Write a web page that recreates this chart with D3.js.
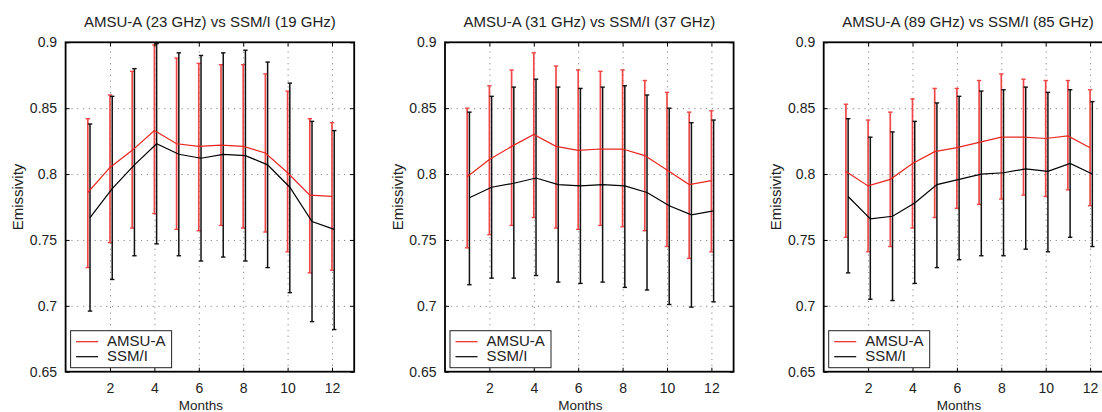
<!DOCTYPE html>
<html>
<head>
  <title>AMSU-A vs SSM/I emissivity</title>
  <script src="https://d3js.org/d3.v7.min.js"></script>
  <style>
  body { margin: 0; background: #fff; }
  svg { font-family: "Liberation Sans", Arial, sans-serif; display: block; }
  .grid line { stroke: #8a8a8a; stroke-dasharray: 1.2,4.6; }
  .grid path { display: none; }
  .axis path { display: none; }
  .axis line { stroke: #000; stroke-width: 1; }
  .axis text { font-size: 14px; fill: #222; }
  </style>
</head>
<body>
<div id="chart"></div>
<script>
// data
var months = [1, 2, 3, 4, 5, 6, 7, 8, 9, 10, 11, 12];
var titles = ["AMSU-A (23 GHz) vs SSM/I (19 GHz)", "AMSU-A (31 GHz) vs SSM/I (37 GHz)", "AMSU-A (89 GHz) vs SSM/I (85 GHz)"];
var seriesNames = ["AMSU-A", "SSM/I"];
var xTicks = [2, 4, 6, 8, 10, 12];
var yTicks = [0.65, 0.7, 0.75, 0.8, 0.85, 0.9];

// panel 1: 23 GHz / 19 GHz
var amsu23 = [0.786, 0.805, 0.818, 0.833, 0.823, 0.821, 0.822, 0.821, 0.816, 0.801, 0.784, 0.783];
var amsu23Low = [0.729, 0.748, 0.759, 0.770, 0.758, 0.757, 0.761, 0.759, 0.756, 0.741, 0.725, 0.727];
var amsu23High = [0.842, 0.860, 0.878, 0.898, 0.888, 0.884, 0.883, 0.883, 0.876, 0.863, 0.842, 0.839];
var ssmi19 = [0.767, 0.789, 0.807, 0.823, 0.815, 0.812, 0.815, 0.814, 0.807, 0.790, 0.764, 0.758];
var ssmi19Low = [0.696, 0.720, 0.738, 0.747, 0.738, 0.734, 0.737, 0.734, 0.729, 0.710, 0.688, 0.682];
var ssmi19High = [0.838, 0.859, 0.880, 0.899, 0.892, 0.890, 0.892, 0.894, 0.885, 0.869, 0.840, 0.833];

// panel 2: 31 GHz / 37 GHz
var amsu31 = [0.798, 0.811, 0.821, 0.830, 0.821, 0.818, 0.819, 0.819, 0.814, 0.803, 0.792, 0.795];
var amsu31Low = [0.744, 0.754, 0.761, 0.767, 0.759, 0.758, 0.761, 0.760, 0.757, 0.745, 0.736, 0.741];
var amsu31High = [0.850, 0.867, 0.879, 0.892, 0.882, 0.879, 0.878, 0.879, 0.871, 0.862, 0.847, 0.848];
var ssmi37 = [0.782, 0.790, 0.793, 0.797, 0.792, 0.791, 0.792, 0.791, 0.786, 0.776, 0.769, 0.772];
var ssmi37Low = [0.716, 0.721, 0.721, 0.723, 0.718, 0.717, 0.718, 0.714, 0.712, 0.701, 0.699, 0.703];
var ssmi37High = [0.847, 0.859, 0.866, 0.872, 0.866, 0.865, 0.866, 0.867, 0.860, 0.850, 0.839, 0.841];

// panel 3: 89 GHz / 85 GHz
var amsu89 = [0.802, 0.791, 0.796, 0.808, 0.817, 0.820, 0.824, 0.828, 0.828, 0.827, 0.829, 0.820];
var amsu89Low = [0.752, 0.741, 0.745, 0.759, 0.767, 0.774, 0.777, 0.781, 0.784, 0.783, 0.788, 0.776];
var amsu89High = [0.853, 0.841, 0.847, 0.857, 0.865, 0.865, 0.871, 0.876, 0.872, 0.871, 0.871, 0.864];
var ssmi85 = [0.783, 0.766, 0.768, 0.778, 0.792, 0.796, 0.800, 0.801, 0.804, 0.802, 0.808, 0.800];
var ssmi85Low = [0.725, 0.705, 0.704, 0.717, 0.729, 0.735, 0.738, 0.738, 0.743, 0.741, 0.752, 0.745];
var ssmi85High = [0.842, 0.828, 0.832, 0.840, 0.854, 0.859, 0.863, 0.864, 0.866, 0.862, 0.864, 0.855];

var panels = [
  { title: titles[0], a: [amsu23, amsu23Low, amsu23High], s: [ssmi19, ssmi19Low, ssmi19High] },
  { title: titles[1], a: [amsu31, amsu31Low, amsu31High], s: [ssmi37, ssmi37Low, ssmi37High] },
  { title: titles[2], a: [amsu89, amsu89Low, amsu89High], s: [ssmi85, ssmi85Low, ssmi85High] }
];

var width = 1102, height = 412;
var lefts = [65.6, 445, 823.7];
var plotTop = 42.3, pw = 288.6, ph = 329.4;
var redLine = "#e8261f", redBar = "#f04848", blackLine = "#000";

var svg = d3.select("#chart").append("svg")
  .attr("width", width)
  .attr("height", height);

var x = d3.scaleLinear().domain([0, 13]).range([0, pw]);
var y = d3.scaleLinear().domain([0.65, 0.9]).range([ph, 0]);

panels.forEach(function(p, i) {
  var g = svg.append("g").attr("transform", "translate(" + lefts[i] + "," + plotTop + ")");

  // dotted grid
  g.append("g").attr("class", "grid")
    .attr("transform", "translate(0," + ph + ")")
    .call(d3.axisBottom(x).tickValues(xTicks).tickSize(-ph).tickFormat(""));
  g.append("g").attr("class", "grid")
    .call(d3.axisLeft(y).tickValues([0.7, 0.75, 0.8, 0.85]).tickSize(-pw).tickFormat(""));

  // series: [values, low, high], colour, x offset
  var series = [
    { d: p.a, line: redLine, bar: redBar, dx: 0, bw: 1.7 },
    { d: p.s, line: blackLine, bar: "#111", dx: 0.1, bw: 1.5 }
  ];
  series.forEach(function(s) {
    var bars = g.append("g");
    months.forEach(function(m, k) {
      var xx = x(m + s.dx);
      bars.append("line")
        .attr("x1", xx).attr("x2", xx)
        .attr("y1", y(s.d[1][k])).attr("y2", y(s.d[2][k]))
        .attr("stroke", s.bar).attr("stroke-width", s.bw);
      [s.d[1][k], s.d[2][k]].forEach(function(v) {
        bars.append("line")
          .attr("x1", xx - 2.2).attr("x2", xx + 2.2)
          .attr("y1", y(v)).attr("y2", y(v))
          .attr("stroke", s.bar).attr("stroke-width", 1.4);
      });
    });
  });
  series.forEach(function(s) {
    var line = d3.line()
      .x(function(m) { return x(m + s.dx); })
      .y(function(m, k) { return y(s.d[0][k]); });
    g.append("path")
      .datum(months)
      .attr("d", line)
      .attr("fill", "none")
      .attr("stroke", s.line)
      .attr("stroke-width", 1.2);
  });

  // axes with inward ticks, mirrored
  g.append("g").attr("class", "axis")
    .call(d3.axisLeft(y).tickValues(yTicks).tickSize(-4).tickPadding(8.5)
      .tickFormat(function(d) { return d3.format("")(+d.toFixed(2)); }));
  g.append("g").attr("class", "axis")
    .attr("transform", "translate(" + pw + ",0)")
    .call(d3.axisRight(y).tickValues(yTicks).tickSize(-4).tickFormat(""));
  g.append("g").attr("class", "axis")
    .attr("transform", "translate(0," + ph + ")")
    .call(d3.axisBottom(x).tickValues(xTicks).tickSize(-4).tickPadding(11.4));
  g.append("g").attr("class", "axis")
    .call(d3.axisTop(x).tickValues(xTicks).tickSize(-4).tickFormat(""));

  g.append("rect")
    .attr("width", pw).attr("height", ph)
    .attr("fill", "none").attr("stroke", "#000").attr("stroke-width", 1.8);

  // legend
  var lg = g.append("g").attr("transform", "translate(5," + (330.7 - plotTop) + ")");
  lg.append("rect").attr("width", 101).attr("height", 37)
    .attr("fill", "#fff").attr("stroke", "#222").attr("stroke-width", 1);
  [redLine, blackLine].forEach(function(c, k) {
    lg.append("line")
      .attr("x1", 5.5).attr("x2", 27.5)
      .attr("y1", 11 + k * 15).attr("y2", 11 + k * 15)
      .attr("stroke", c).attr("stroke-width", 1.2);
    lg.append("text")
      .attr("x", 36.5).attr("y", 15.5 + k * 15)
      .attr("font-size", 15).attr("fill", "#222")
      .text(seriesNames[k]);
  });

  // labels
  g.append("text")
    .attr("x", pw / 2).attr("y", 27 - plotTop)
    .attr("text-anchor", "middle")
    .attr("font-size", 15).attr("fill", "#222")
    .text(p.title);
  g.append("text")
    .attr("x", pw / 2 - 9).attr("y", 410 - plotTop)
    .attr("text-anchor", "middle")
    .attr("font-size", 13.5).attr("fill", "#222")
    .text("Months");
  g.append("text")
    .attr("transform", "translate(-42.5," + (197 - plotTop) + ") rotate(-90)")
    .attr("text-anchor", "middle")
    .attr("font-size", 15).attr("fill", "#222")
    .text("Emissivity");
});
</script>
</body>
</html>
